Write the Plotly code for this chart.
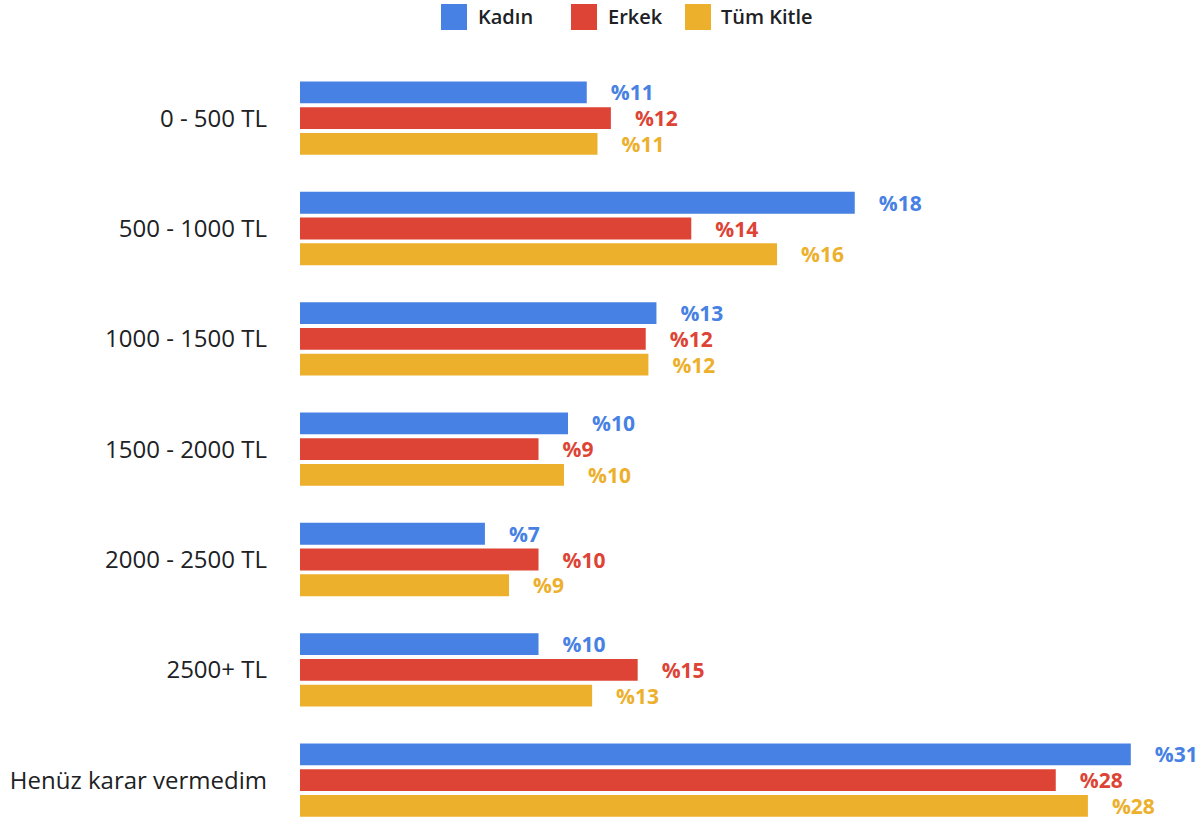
import plotly.graph_objects as go

categories = ["0 - 500 TL", "500 - 1000 TL", "1000 - 1500 TL", "1500 - 2000 TL",
              "2000 - 2500 TL", "2500+ TL", "Henüz karar vermedim"]
series_names = ["Kadın", "Erkek", "Tüm Kitle"]
kadin = [10.7, 20.7, 13.3, 10.0, 6.9, 8.9, 31.0]
erkek = [11.6, 14.6, 12.9, 8.9, 8.9, 12.6, 28.2]
tum = [11.1, 17.8, 13.0, 9.85, 7.8, 10.9, 29.4]
kadin_labels = ["%11", "%18", "%13", "%10", "%7", "%10", "%31"]
erkek_labels = ["%12", "%14", "%12", "%9", "%10", "%15", "%28"]
tum_labels = ["%11", "%16", "%12", "%10", "%9", "%13", "%28"]

colors = ["#4681E3", "#DD4435", "#EDB02C"]
values = [kadin, erkek, tum]
labels = [kadin_labels, erkek_labels, tum_labels]

W, H = 1198, 821
ML, MT = 300, 63
PW, PH = W - ML, H - MT

FONT = "Open Sans"
PAD = "\u2002\u2002"

fig = go.Figure()
for name, vals, labs, col in zip(series_names, values, labels, colors):
    fig.add_trace(go.Bar(
        y=categories, x=vals, orientation="h", name=name,
        marker=dict(color=col, line=dict(width=0)),
        text=[PAD + t for t in labs], textposition="outside",
        textfont=dict(family=FONT, size=21, color=col, weight=700),
        constraintext="none", cliponaxis=False, showlegend=False,
        hoverinfo="skip",
    ))

# custom legend (top)
leg_sq_px = [441, 571, 685]
leg_txt_px = [476, 606, 719]
leg_cy = 17
for name, col, sx, tx in zip(series_names, colors, leg_sq_px, leg_txt_px):
    x0 = (sx - ML) / PW
    x1 = (sx + 26 - ML) / PW
    y0 = 1 - (leg_cy + 13 - MT) / PH
    y1 = 1 - (leg_cy - 13 - MT) / PH
    fig.add_shape(type="rect", xref="paper", yref="paper", x0=x0, x1=x1, y0=y0, y1=y1,
                  fillcolor=col, line=dict(width=0))
    fig.add_annotation(text=name, xref="paper", yref="paper",
                       x=(tx - ML) / PW, y=1 - (leg_cy - MT) / PH,
                       xanchor="left", yanchor="middle", showarrow=False,
                       font=dict(family=FONT, size=20, color="#202124", weight=600))

fig.update_layout(
    width=W, height=H,
    margin=dict(l=ML, r=0, t=MT, b=0),
    paper_bgcolor="white", plot_bgcolor="white",
    barmode="group", bargap=0.30, bargroupgap=0.15,
    font=dict(family=FONT, color="#202124"),
    xaxis=dict(range=[0, PW / 26.8], visible=False, fixedrange=True),
    yaxis=dict(categoryorder="array", categoryarray=categories,
               range=[6.37, -0.5], showgrid=False, zeroline=False, showline=False,
               ticks="", ticklabelstandoff=32, fixedrange=True,
               tickfont=dict(family=FONT, size=24, color="#202124")),
)

fig.write_html("out.html", config={"displayModeBar": False},
               post_script="document.body.style.margin='0px';")
